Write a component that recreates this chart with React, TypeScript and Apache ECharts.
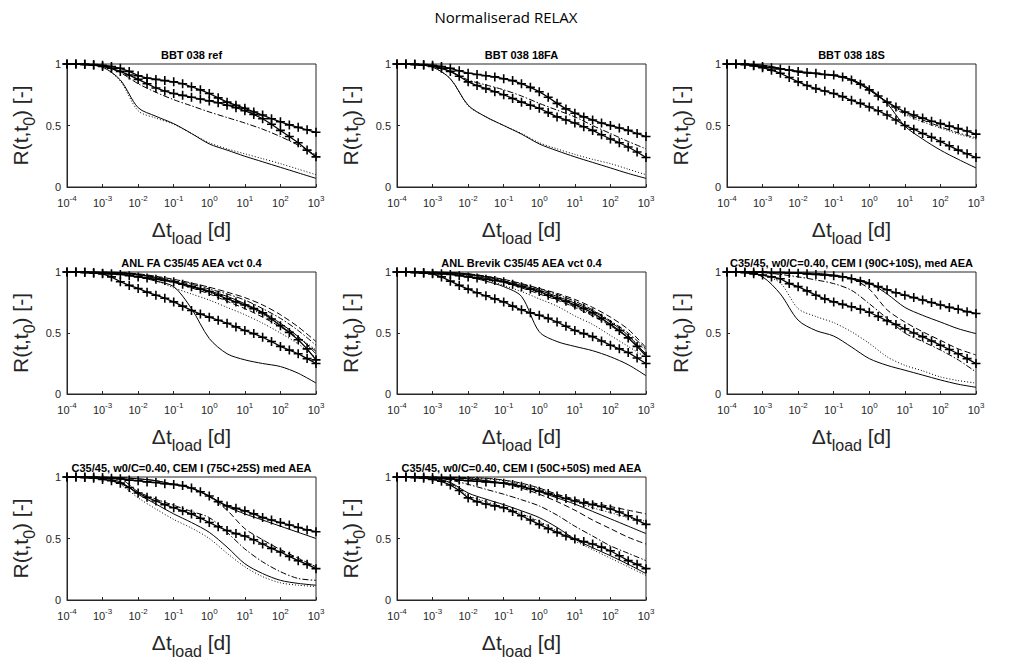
import React, { useEffect, useRef } from "react";
import * as echarts from "echarts";

// ---------- DATA ----------
const MAIN_TITLE = "Normaliserad RELAX";
const PANEL_TITLES = [
  "BBT 038 ref",
  "BBT 038 18FA",
  "BBT 038 18S",
  "ANL FA C35/45 AEA vct 0.4",
  "ANL Brevik C35/45 AEA vct 0.4",
  "C35/45, w0/C=0.40, CEM I (90C+10S), med AEA",
  "C35/45, w0/C=0.40, CEM I (75C+25S) med AEA",
  "C35/45, w0/C=0.40, CEM I (50C+50S) med AEA",
];
const X_MIN = 1e-4;
const X_MAX = 1e3;
const Y_TICKS = [0, 0.5, 1];

// model curves sampled every half decade
const T_LINE = [1e-4, 3.16e-4, 1e-3, 3.16e-3, 1e-2, 3.16e-2, 0.1, 0.316, 1, 3.16, 10, 31.6, 100, 316, 1000];
// measurements sampled every quarter decade
const T_MEAS = [
  1e-4, 1.78e-4, 3.16e-4, 5.62e-4, 1e-3, 1.78e-3, 3.16e-3, 5.62e-3, 1e-2, 1.78e-2, 3.16e-2, 5.62e-2, 0.1, 0.178,
  0.316, 0.562, 1, 1.78, 3.16, 5.62, 10, 17.8, 31.6, 56.2, 100, 178, 316, 562, 1000,
];

// Panel 1: BBT 038 ref
const P1_MEAS_UPPER = [1.0,1.0,1.0,0.995,0.99,0.98,0.965,0.94,0.905,0.885,0.875,0.865,0.855,0.84,0.815,0.79,0.76,0.725,0.69,0.665,0.64,0.61,0.585,0.555,0.53,0.505,0.485,0.465,0.445];
const P1_MEAS_LOWER = [1.0,1.0,0.995,0.99,0.98,0.965,0.94,0.91,0.875,0.84,0.805,0.78,0.76,0.745,0.73,0.715,0.70,0.685,0.665,0.645,0.62,0.59,0.555,0.51,0.46,0.41,0.36,0.30,0.245];
const P1_SOLID = [1,0.995,0.975,0.87,0.645,0.575,0.515,0.435,0.35,0.30,0.25,0.205,0.16,0.115,0.07];
const P1_DOTTED = [1,0.995,0.975,0.86,0.62,0.56,0.51,0.435,0.36,0.31,0.27,0.23,0.19,0.145,0.10];
const P1_DASHDOT = [1,0.998,0.985,0.93,0.84,0.77,0.71,0.66,0.61,0.565,0.52,0.47,0.41,0.34,0.26];

// Panel 2: BBT 038 18FA
const P2_MEAS_UPPER = [1.0,1.0,1.0,0.995,0.99,0.98,0.965,0.945,0.925,0.915,0.905,0.895,0.88,0.865,0.84,0.81,0.775,0.73,0.68,0.635,0.60,0.57,0.545,0.52,0.50,0.48,0.46,0.435,0.41];
const P2_MEAS_LOWER = [1.0,1.0,0.995,0.99,0.98,0.965,0.94,0.90,0.855,0.825,0.80,0.775,0.75,0.72,0.69,0.665,0.64,0.605,0.57,0.545,0.52,0.49,0.46,0.425,0.39,0.36,0.325,0.285,0.24];
const P2_SOLID = [1,0.995,0.975,0.88,0.665,0.57,0.50,0.43,0.35,0.295,0.245,0.20,0.155,0.11,0.07];
const P2_DOTTED = [1,0.995,0.975,0.88,0.66,0.57,0.50,0.435,0.36,0.31,0.265,0.225,0.19,0.145,0.10];
const P2_DASHDOT = [1,0.998,0.985,0.94,0.87,0.83,0.79,0.74,0.68,0.625,0.57,0.50,0.435,0.37,0.31];

// Panel 3: BBT 038 18S
const P3_MEAS_UPPER = [1.0,1.0,1.0,0.99,0.98,0.97,0.96,0.95,0.94,0.93,0.925,0.915,0.91,0.895,0.87,0.835,0.79,0.74,0.69,0.65,0.61,0.585,0.56,0.535,0.515,0.495,0.475,0.455,0.43];
const P3_MEAS_LOWER = [1.0,1.0,0.995,0.985,0.97,0.95,0.925,0.89,0.855,0.825,0.80,0.78,0.76,0.735,0.705,0.68,0.65,0.62,0.585,0.545,0.50,0.47,0.435,0.405,0.37,0.335,0.30,0.27,0.24];
const P3_SOLID = [1,1,0.99,0.965,0.935,0.92,0.905,0.875,0.80,0.68,0.495,0.39,0.30,0.225,0.155];
const P3_DOTTED = [1,1,0.99,0.965,0.935,0.92,0.905,0.87,0.79,0.68,0.59,0.53,0.48,0.43,0.39];
const P3_DASHDOT = [1,1,0.99,0.965,0.935,0.92,0.905,0.87,0.79,0.69,0.60,0.545,0.49,0.44,0.40];

// Panel 4: ANL FA C35/45 AEA vct 0.4
const P4_MEAS_UPPER = [1.0,1.0,1.0,0.995,0.99,0.985,0.98,0.97,0.96,0.95,0.94,0.93,0.92,0.90,0.88,0.86,0.84,0.81,0.78,0.755,0.73,0.70,0.665,0.615,0.56,0.505,0.445,0.37,0.28];
const P4_MEAS_LOWER = [1.0,1.0,0.995,0.99,0.985,0.96,0.92,0.89,0.865,0.835,0.81,0.785,0.755,0.72,0.685,0.655,0.63,0.605,0.58,0.55,0.52,0.495,0.465,0.43,0.39,0.36,0.33,0.29,0.25];
const P4_SOLID = [1,1,0.995,0.985,0.96,0.925,0.88,0.70,0.455,0.33,0.28,0.25,0.225,0.17,0.09];
const P4_SOLID_B = [1,1,1,0.995,0.98,0.955,0.92,0.885,0.845,0.80,0.74,0.67,0.58,0.47,0.33];
const P4_DOTTED = [1,1,0.995,0.985,0.965,0.93,0.87,0.82,0.77,0.71,0.65,0.58,0.50,0.41,0.30];
const P4_DOTTED_B = [1,1,1,0.99,0.975,0.95,0.92,0.88,0.83,0.78,0.72,0.65,0.57,0.47,0.36];
const P4_DASHDOT = [1,1,1,0.995,0.98,0.96,0.93,0.90,0.86,0.82,0.77,0.70,0.62,0.52,0.40];
const P4_DASHED = [1,1,1,0.995,0.985,0.965,0.94,0.91,0.875,0.835,0.79,0.73,0.65,0.55,0.43];
const P4_DASHED_B = [1,1,0.998,0.99,0.975,0.95,0.915,0.87,0.82,0.76,0.70,0.63,0.55,0.46,0.35];

// Panel 5: ANL Brevik C35/45 AEA vct 0.4
const P5_MEAS_UPPER = [1.0,1.0,1.0,0.995,0.99,0.985,0.98,0.97,0.96,0.95,0.94,0.93,0.92,0.90,0.88,0.86,0.84,0.81,0.785,0.76,0.73,0.70,0.665,0.62,0.57,0.52,0.46,0.39,0.31];
const P5_MEAS_LOWER = [1.0,1.0,0.995,0.99,0.985,0.96,0.925,0.89,0.86,0.83,0.805,0.78,0.755,0.72,0.69,0.665,0.645,0.62,0.59,0.555,0.52,0.495,0.47,0.435,0.40,0.37,0.34,0.295,0.25];
const P5_SOLID = [1,1,0.995,0.985,0.96,0.925,0.88,0.80,0.51,0.43,0.39,0.355,0.305,0.24,0.15];
const P5_SOLID_B = [1,1,1,0.995,0.98,0.96,0.925,0.89,0.85,0.80,0.745,0.68,0.59,0.48,0.32];
const P5_DOTTED = [1,1,0.998,0.99,0.97,0.94,0.89,0.84,0.78,0.72,0.64,0.57,0.48,0.39,0.30];
const P5_DOTTED_B = [1,1,1,0.995,0.98,0.955,0.92,0.88,0.83,0.78,0.72,0.65,0.57,0.47,0.36];
const P5_DASHDOT = [1,1,1,0.995,0.985,0.965,0.935,0.90,0.86,0.815,0.76,0.69,0.60,0.50,0.37];
const P5_DASHED = [1,1,1,0.995,0.985,0.965,0.94,0.905,0.865,0.825,0.775,0.71,0.63,0.53,0.38];
const P5_DASHED_B = [1,1,0.998,0.99,0.975,0.95,0.915,0.87,0.82,0.77,0.71,0.64,0.56,0.46,0.33];

// Panel 6: 90C+10S
const P6_MEAS_UPPER = [1.0,1.0,1.0,1.0,1.0,0.995,0.995,0.99,0.99,0.985,0.98,0.975,0.97,0.96,0.945,0.925,0.905,0.88,0.855,0.83,0.81,0.79,0.77,0.75,0.73,0.71,0.695,0.675,0.66];
const P6_MEAS_LOWER = [1.0,1.0,0.995,0.985,0.975,0.96,0.945,0.905,0.88,0.845,0.81,0.78,0.755,0.735,0.715,0.695,0.67,0.635,0.60,0.57,0.535,0.50,0.47,0.435,0.40,0.365,0.33,0.29,0.25];
const P6_SOLID = [1,1,0.96,0.82,0.605,0.52,0.475,0.385,0.29,0.235,0.195,0.155,0.115,0.08,0.055];
const P6_SOLID_B = [1,1,1,1,0.995,0.99,0.975,0.95,0.91,0.82,0.71,0.645,0.59,0.535,0.495];
const P6_DOTTED = [1,1,0.975,0.91,0.70,0.635,0.585,0.51,0.415,0.305,0.235,0.19,0.14,0.11,0.09];
const P6_DASHDOT = [1,1,0.995,0.98,0.96,0.935,0.905,0.85,0.74,0.62,0.50,0.43,0.36,0.28,0.18];
const P6_DASHED = [1,1,1,0.995,0.99,0.98,0.965,0.945,0.86,0.69,0.59,0.51,0.44,0.37,0.32];

// Panel 7: 75C+25S
const P7_MEAS_UPPER = [1.0,1.0,1.0,1.0,0.995,0.99,0.985,0.975,0.97,0.96,0.955,0.945,0.94,0.93,0.91,0.88,0.845,0.80,0.765,0.745,0.725,0.70,0.67,0.65,0.63,0.61,0.59,0.57,0.555];
const P7_MEAS_LOWER = [1.0,1.0,0.995,0.99,0.98,0.97,0.95,0.915,0.87,0.835,0.805,0.775,0.75,0.725,0.70,0.665,0.63,0.595,0.565,0.54,0.52,0.49,0.455,0.42,0.39,0.355,0.32,0.29,0.255];
const P7_SOLID = [1,1,0.99,0.96,0.86,0.78,0.70,0.63,0.55,0.43,0.295,0.215,0.16,0.135,0.12];
const P7_SOLID_B = [1,1,1,0.995,0.985,0.97,0.94,0.91,0.845,0.76,0.70,0.65,0.60,0.55,0.50];
const P7_DOTTED = [1,1,0.985,0.94,0.83,0.74,0.655,0.585,0.50,0.38,0.27,0.19,0.14,0.12,0.11];
const P7_DASHDOT = [1,1,0.998,0.985,0.88,0.82,0.77,0.72,0.67,0.55,0.415,0.31,0.23,0.175,0.16];
const P7_DASHED = [1,1,1,0.995,0.985,0.97,0.94,0.91,0.84,0.73,0.58,0.49,0.41,0.34,0.27];

// Panel 8: 50C+50S
const P8_MEAS_UPPER = [1.0,1.0,1.0,1.0,0.995,0.99,0.985,0.975,0.97,0.965,0.96,0.955,0.95,0.94,0.925,0.905,0.885,0.865,0.845,0.825,0.805,0.79,0.775,0.76,0.74,0.715,0.685,0.65,0.615];
const P8_MEAS_LOWER = [1.0,1.0,0.995,0.99,0.98,0.965,0.935,0.89,0.83,0.80,0.78,0.765,0.75,0.72,0.685,0.65,0.615,0.58,0.55,0.52,0.495,0.475,0.455,0.43,0.40,0.36,0.32,0.29,0.255];
const P8_SOLID = [1,1,0.99,0.955,0.87,0.82,0.775,0.725,0.67,0.59,0.495,0.425,0.36,0.29,0.215];
const P8_SOLID_B = [1,1,1,0.995,0.985,0.97,0.95,0.92,0.88,0.83,0.78,0.72,0.66,0.60,0.54];
const P8_DOTTED = [1,1,0.99,0.95,0.85,0.80,0.755,0.70,0.64,0.56,0.48,0.41,0.34,0.27,0.20];
const P8_DOTTED_B = [1,1,1,1,0.99,0.985,0.97,0.94,0.90,0.85,0.80,0.75,0.71,0.67,0.64];
const P8_DASHDOT = [1,1,0.995,0.975,0.94,0.90,0.86,0.815,0.765,0.69,0.60,0.52,0.44,0.38,0.32];
const P8_DASHED = [1,1,1,1,0.995,0.99,0.975,0.95,0.91,0.86,0.82,0.79,0.76,0.73,0.70];
const P8_DASHED_B = [1,1,1,0.995,0.985,0.97,0.945,0.91,0.86,0.80,0.73,0.65,0.58,0.51,0.455];

// ---------- PANEL DEFINITIONS ----------
type Dash = "solid" | "dotted" | "dashdot" | "dashed";
type Panel = { meas: number[][]; lines: { data: number[]; dash: Dash }[] };

const PANELS: Panel[] = [
  { meas: [P1_MEAS_UPPER, P1_MEAS_LOWER], lines: [
    { data: P1_SOLID, dash: "solid" }, { data: P1_DOTTED, dash: "dotted" }, { data: P1_DASHDOT, dash: "dashdot" } ] },
  { meas: [P2_MEAS_UPPER, P2_MEAS_LOWER], lines: [
    { data: P2_SOLID, dash: "solid" }, { data: P2_DOTTED, dash: "dotted" }, { data: P2_DASHDOT, dash: "dashdot" } ] },
  { meas: [P3_MEAS_UPPER, P3_MEAS_LOWER], lines: [
    { data: P3_SOLID, dash: "solid" }, { data: P3_DOTTED, dash: "dotted" }, { data: P3_DASHDOT, dash: "dashdot" } ] },
  { meas: [P4_MEAS_UPPER, P4_MEAS_LOWER], lines: [
    { data: P4_SOLID, dash: "solid" }, { data: P4_SOLID_B, dash: "solid" }, { data: P4_DOTTED, dash: "dotted" },
    { data: P4_DOTTED_B, dash: "dotted" }, { data: P4_DASHDOT, dash: "dashdot" }, { data: P4_DASHED, dash: "dashed" },
    { data: P4_DASHED_B, dash: "dashed" } ] },
  { meas: [P5_MEAS_UPPER, P5_MEAS_LOWER], lines: [
    { data: P5_SOLID, dash: "solid" }, { data: P5_SOLID_B, dash: "solid" }, { data: P5_DOTTED, dash: "dotted" },
    { data: P5_DOTTED_B, dash: "dotted" }, { data: P5_DASHDOT, dash: "dashdot" }, { data: P5_DASHED, dash: "dashed" },
    { data: P5_DASHED_B, dash: "dashed" } ] },
  { meas: [P6_MEAS_UPPER, P6_MEAS_LOWER], lines: [
    { data: P6_SOLID, dash: "solid" }, { data: P6_SOLID_B, dash: "solid" }, { data: P6_DOTTED, dash: "dotted" },
    { data: P6_DASHDOT, dash: "dashdot" }, { data: P6_DASHED, dash: "dashed" } ] },
  { meas: [P7_MEAS_UPPER, P7_MEAS_LOWER], lines: [
    { data: P7_SOLID, dash: "solid" }, { data: P7_SOLID_B, dash: "solid" }, { data: P7_DOTTED, dash: "dotted" },
    { data: P7_DASHDOT, dash: "dashdot" }, { data: P7_DASHED, dash: "dashed" } ] },
  { meas: [P8_MEAS_UPPER, P8_MEAS_LOWER], lines: [
    { data: P8_SOLID, dash: "solid" }, { data: P8_SOLID_B, dash: "solid" }, { data: P8_DOTTED, dash: "dotted" },
    { data: P8_DOTTED_B, dash: "dotted" }, { data: P8_DASHDOT, dash: "dashdot" }, { data: P8_DASHED, dash: "dashed" },
    { data: P8_DASHED_B, dash: "dashed" } ] },
];

// ---------- LAYOUT / STYLE ----------
const COL_LEFT = [67, 397, 727];
const ROW_TOP = [64, 272, 477];
const ROW_H = [123, 122, 125];
const PLOT_W = 249;
const FONT = "'Liberation Sans', Arial, Helvetica, sans-serif";
const AXIS_COLOR = "#262626";
const PLUS = "path://M5,0L5,10M0,5L10,5";

const DASH_MAP: Record<Dash, any> = {
  solid: "solid",
  dotted: [1, 2],
  dashdot: [6, 2, 1.5, 2],
  dashed: [6, 3],
};

function buildOption() {
  const grid: any[] = [];
  const xAxis: any[] = [];
  const yAxis: any[] = [];
  const series: any[] = [];
  const graphic: any[] = [];

  graphic.push({
    type: "text",
    x: 506,
    y: 17,
    style: {
      text: MAIN_TITLE,
      align: "center",
      verticalAlign: "middle",
      font: "15px 'Open Sans', 'Noto Sans', sans-serif",
      fill: "#000",
    },
  });

  PANELS.forEach((p, i) => {
    const col = i % 3;
    const row = Math.floor(i / 3);
    const left = COL_LEFT[col];
    const top = ROW_TOP[row];
    const h = ROW_H[row];

    grid.push({
      left,
      top,
      width: PLOT_W,
      height: h,
      show: true,
      borderColor: AXIS_COLOR,
      borderWidth: 1,
      backgroundColor: "#fff",
    });

    graphic.push({
      type: "text",
      x: left + PLOT_W / 2,
      y: top - 9,
      style: {
        text: PANEL_TITLES[i],
        align: "center",
        verticalAlign: "middle",
        font: `bold 11px ${FONT}`,
        fill: "#000",
      },
    });

    xAxis.push({
      gridIndex: i,
      type: "log",
      logBase: 10,
      min: X_MIN,
      max: X_MAX,
      name: "{m|Δt}{sub|load}{m| [d]}",
      nameLocation: "middle",
      nameGap: 32,
      nameTextStyle: {
        color: AXIS_COLOR,
        fontFamily: FONT,
        fontSize: 21,
        rich: {
          m: { fontSize: 21, fontFamily: FONT, color: AXIS_COLOR, verticalAlign: "top" },
          sub: { fontSize: 16, fontFamily: FONT, color: AXIS_COLOR, verticalAlign: "bottom", padding: [11, 0, 0, 0] },
        },
      },
      axisLine: { show: true, onZero: false, lineStyle: { color: AXIS_COLOR, width: 1 } },
      axisTick: { show: true, inside: true, length: 3, lineStyle: { color: AXIS_COLOR } },
      minorTick: { show: false },
      splitLine: { show: false },
      axisLabel: {
        show: true,
        margin: 7,
        hideOverlap: false,
        showMinLabel: true,
        showMaxLabel: true,
        formatter: (v: number) => `{b|10}{sup|${Math.round(Math.log10(v))}}`,
        rich: {
          b: { fontSize: 11, fontFamily: FONT, color: AXIS_COLOR, verticalAlign: "bottom" },
          sup: { fontSize: 8, fontFamily: FONT, color: AXIS_COLOR, verticalAlign: "bottom", padding: [0, 0, 6, 0] },
        },
      },
    });

    yAxis.push({
      gridIndex: i,
      type: "value",
      min: Y_TICKS[0],
      max: Y_TICKS[Y_TICKS.length - 1],
      interval: Y_TICKS[1] - Y_TICKS[0],
      name: "{m|R(t,t}{sub|0}{m|) [-]}",
      nameLocation: "middle",
      nameGap: 30,
      nameRotate: 90,
      nameTextStyle: {
        color: AXIS_COLOR,
        fontFamily: FONT,
        fontSize: 21,
        rich: {
          m: { fontSize: 21, fontFamily: FONT, color: AXIS_COLOR, verticalAlign: "top" },
          sub: { fontSize: 16, fontFamily: FONT, color: AXIS_COLOR, verticalAlign: "bottom", padding: [11, 0, 0, 0] },
        },
      },
      axisLine: { show: true, lineStyle: { color: AXIS_COLOR, width: 1 } },
      axisTick: { show: true, inside: true, length: 3, lineStyle: { color: AXIS_COLOR } },
      splitLine: { show: false },
      axisLabel: { margin: 6, fontSize: 11, fontFamily: FONT, color: AXIS_COLOR },
    });

    p.lines.forEach((ln) => {
      series.push({
        type: "line",
        xAxisIndex: i,
        yAxisIndex: i,
        data: T_LINE.map((t, k) => [t, ln.data[k]]),
        symbol: "none",
        showSymbol: false,
        smooth: 0.3,
        silent: true,
        z: 2,
        lineStyle: { color: "#000", width: 1, type: DASH_MAP[ln.dash] },
      });
    });

    p.meas.forEach((m) => {
      series.push({
        type: "line",
        xAxisIndex: i,
        yAxisIndex: i,
        data: T_MEAS.map((t, k) => [t, m[k]]),
        symbol: PLUS,
        symbolSize: 9,
        showSymbol: true,
        showAllSymbol: true,
        silent: true,
        z: 3,
        lineStyle: { color: "#000", width: 1.3 },
        itemStyle: { color: "#000", borderColor: "#000", borderWidth: 1.6 },
      });
    });
  });

  return {
    animation: false,
    backgroundColor: "#fff",
    grid,
    xAxis,
    yAxis,
    series,
    graphic,
  };
}

export default function App() {
  const ref = useRef<HTMLDivElement>(null);
  useEffect(() => {
    if (!ref.current) return;
    const chart = echarts.init(ref.current, undefined, { renderer: "svg" });
    chart.setOption(buildOption() as any);
    return () => chart.dispose();
  }, []);
  return (
    <div
      ref={ref}
      style={{ position: "fixed", left: 0, top: 0, width: 1012, height: 660, background: "#fff" }}
    />
  );
}
